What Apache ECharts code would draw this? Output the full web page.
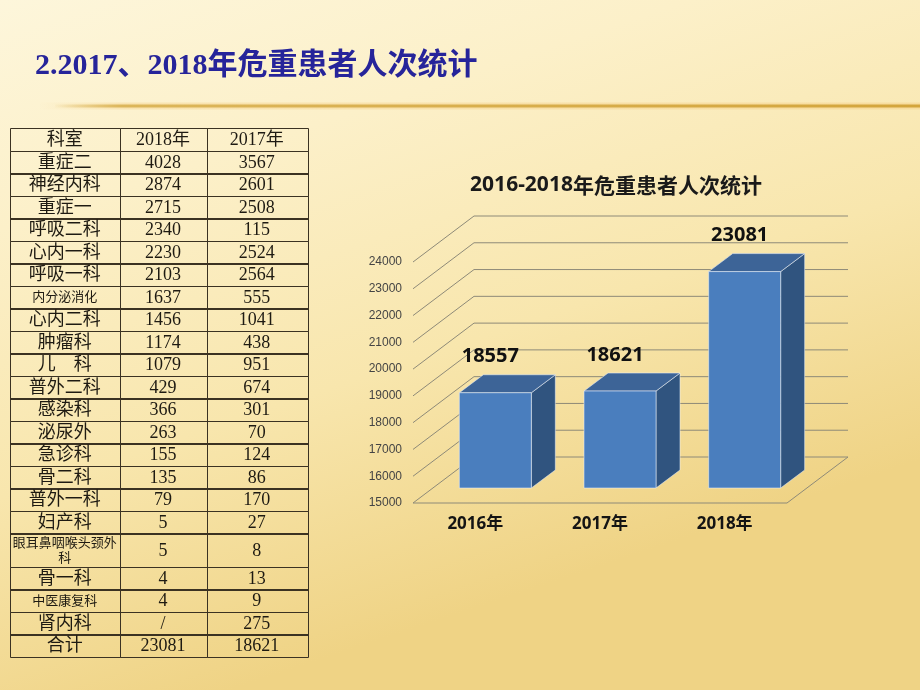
<!DOCTYPE html>
<html>
<head>
<meta charset="utf-8">
<title>危重患者人次统计</title>
<script src="https://cdn.jsdelivr.net/npm/echarts@6/dist/echarts.min.js"></script>
<style>
html,body{margin:0;padding:0;}
#main{width:920px;height:690px;}
</style>
</head>
<body>
<div id="main"></div>
<script>
// 表格数据
var headers = ['科室', '2018年', '2017年'];
var depts = ['重症二', '神经内科', '重症一', '呼吸二科', '心内一科', '呼吸一科', '内分泌消化', '心内二科', '肿瘤科', '儿　科',
  '普外二科', '感染科', '泌尿外', '急诊科', '骨二科', '普外一科', '妇产科', '眼耳鼻咽喉头颈外科', '骨一科', '中医康复科', '肾内科'];
var count2018 = [4028, 2874, 2715, 2340, 2230, 2103, 1637, 1456, 1174, 1079, 429, 366, 263, 155, 135, 79, 5, 5, 4, 4, null];
var count2017 = [3567, 2601, 2508, 115, 2524, 2564, 555, 1041, 438, 951, 674, 301, 70, 124, 86, 170, 27, 8, 13, 9, 275];
var smallNames = ['内分泌消化', '眼耳鼻咽喉头颈外科', '中医康复科'];

// 柱状图数据
var years = ['2016年', '2017年', '2018年'];
var totals = [18557, 18621, 23081];
var yTicks = [15000, 16000, 17000, 18000, 19000, 20000, 21000, 22000, 23000, 24000];

function sum(arr) {
  var s = 0;
  arr.forEach(function (v) { if (v != null) s += v; });
  return s;
}
function fmt(v) { return v == null ? '/' : String(v); }

var rows = [headers];
depts.forEach(function (d, i) { rows.push([d, fmt(count2018[i]), fmt(count2017[i])]); });
rows.push(['合计', String(sum(count2018)), String(sum(count2017))]);

// 表格布局
var colEdges = [0, 109.5, 196.5, 297];
var rowUnits = rows.map(function (r) { return r[0] === '眼耳鼻咽喉头颈外科' ? 1.5 : 1; });
var rowTop = [];
var acc = 0;
rowUnits.forEach(function (u) { rowTop.push(acc); acc += u; });
var cellData = [];
rows.forEach(function (r, ri) { r.forEach(function (t, ci) { cellData.push([ci, ri]); }); });

function renderCell(params, api) {
  var c = api.value(0), r = api.value(1);
  var p0 = api.coord([colEdges[c], rowTop[r]]);
  var p1 = api.coord([colEdges[c + 1], rowTop[r] + rowUnits[r]]);
  var text = rows[r][c];
  var small = c === 0 && smallNames.indexOf(text) >= 0;
  var x0 = Math.round(p0[0]) + 0.5, y0 = Math.round(p0[1]) + 0.5;
  return {
    type: 'group',
    children: [{
      type: 'rect',
      shape: { x: x0, y: y0, width: Math.round(p1[0] - p0[0]), height: Math.round(p1[1] - p0[1]) },
      style: { fill: 'none', stroke: '#3b3222', lineWidth: 1 }
    }, {
      type: 'text',
      style: {
        text: text,
        x: (p0[0] + p1[0]) / 2,
        y: (p0[1] + p1[1]) / 2 + 1,
        align: 'center',
        verticalAlign: 'middle',
        width: p1[0] - p0[0] - 2,
        overflow: 'break',
        lineHeight: small ? 15 : 20,
        fontSize: small ? 13 : 18,
        fontFamily: '"Liberation Serif", "Noto Sans CJK SC", serif',
        fill: '#1e1a12'
      }
    }]
  };
}

// 3D 效果参数
var depth = [61, -46];
var barShift = [20, -15];
var barDepth = [24, -18];
var barW = 72;

function renderGrid(params, api) {
  var v = api.value(1);
  var band = api.size([1, 0])[0];
  var left = api.coord([0, v]);
  var right = api.coord([years.length - 1, v]);
  var xl = left[0] - band / 2, xr = right[0] + band / 2, y = left[1];
  var lines = [{
    type: 'polyline',
    shape: { points: [[xl, y], [xl + depth[0], y + depth[1]], [xr + depth[0], y + depth[1]]] },
    style: { fill: 'none', stroke: '#8e8a78', lineWidth: 1 }
  }];
  if (v === yTicks[0]) {
    lines.push({
      type: 'polyline',
      shape: { points: [[xl, y], [xr, y], [xr + depth[0], y + depth[1]]] },
      style: { fill: 'none', stroke: '#8e8a78', lineWidth: 1 }
    });
  }
  return { type: 'group', children: lines };
}

function renderBar(params, api) {
  var i = api.value(0), v = api.value(1);
  var top = api.coord([i, v]);
  var base = api.coord([i, yTicks[0]]);
  var x0 = top[0] + barShift[0] - barW / 2, x1 = x0 + barW;
  var yt = top[1] + barShift[1], yb = base[1] + barShift[1];
  var dx = barDepth[0], dy = barDepth[1];
  var edge = 'rgba(235,240,250,0.55)';
  return {
    type: 'group',
    children: [{
      type: 'polygon',
      shape: { points: [[x1, yt], [x1 + dx, yt + dy], [x1 + dx, yb + dy], [x1, yb]] },
      style: { fill: '#30547f', stroke: edge, lineWidth: 1 }
    }, {
      type: 'polygon',
      shape: { points: [[x0, yt], [x1, yt], [x1 + dx, yt + dy], [x0 + dx, yt + dy]] },
      style: { fill: '#3d6497', stroke: edge, lineWidth: 1 }
    }, {
      type: 'rect',
      shape: { x: x0, y: yt, width: barW, height: yb - yt },
      style: { fill: '#4a7ebe', stroke: edge, lineWidth: 1 }
    }, {
      type: 'text',
      style: {
        text: String(v),
        x: top[0] + 15,
        y: yt - 36,
        align: 'center',
        verticalAlign: 'middle',
        fontSize: 20,
        fontWeight: 'bold',
        fontFamily: '"Noto Sans", sans-serif',
        fill: '#111'
      }
    }]
  };
}

var myChart = echarts.init(document.getElementById('main'));
var option = {
  backgroundColor: {
    type: 'linear', x: 0, y: 0, x2: 0.25, y2: 1,
    colorStops: [
      { offset: 0, color: '#fdf6db' },
      { offset: 0.3, color: '#fcf0c9' },
      { offset: 0.65, color: '#f8e6ad' },
      { offset: 1, color: '#efd385' }
    ]
  },
  title: [{
    text: '2.2017、2018年危重患者人次统计',
    left: 30,
    top: 46,
    textStyle: {
      color: '#26249a',
      fontSize: 30,
      fontWeight: 'bold',
      fontFamily: '"Liberation Serif", "Noto Sans CJK SC", serif'
    }
  }, {
    text: '{a|2016-2018}{b|年危重患者人次统计}',
    left: 611,
    top: 170,
    textAlign: 'center',
    textStyle: {
      rich: {
        a: { fontSize: 21, fontWeight: 'bold', color: '#1a1a1a', fontFamily: '"Noto Sans", sans-serif' },
        b: { fontSize: 21, color: '#1a1a1a', fontFamily: '"Noto Sans CJK SC", sans-serif' }
      }
    }
  }],
  graphic: [{
    type: 'line',
    shape: { x1: 40, y1: 106, x2: 920, y2: 106 },
    style: {
      lineWidth: 7,
      stroke: {
        type: 'linear', x: 0, y: 0, x2: 1, y2: 0,
        colorStops: [{ offset: 0, color: 'rgba(245,215,150,0)' }, { offset: 0.1, color: 'rgba(245,210,140,0.45)' }, { offset: 1, color: 'rgba(245,205,130,0.45)' }]
      }
    }
  }, {
    type: 'line',
    shape: { x1: 55, y1: 106, x2: 920, y2: 106 },
    style: {
      lineWidth: 3,
      stroke: {
        type: 'linear', x: 0, y: 0, x2: 1, y2: 0,
        colorStops: [{ offset: 0, color: 'rgba(214,172,70,0)' }, { offset: 0.08, color: '#dcb65a' }, { offset: 1, color: '#d3a53c' }]
      }
    }
  }],
  grid: [
    { left: 10, top: 128, width: 297, height: 529 },
    { left: 413, right: 133, top: 262, bottom: 187 }
  ],
  xAxis: [
    { gridIndex: 0, type: 'value', min: 0, max: 297, show: false },
    {
      gridIndex: 1, type: 'category', data: years,
      axisLine: { show: false }, axisTick: { show: false },
      axisLabel: { margin: 13, fontSize: 17, fontWeight: 'bold', color: '#141414', fontFamily: '"Noto Sans", "Noto Sans CJK SC", sans-serif' }
    }
  ],
  yAxis: [
    { gridIndex: 0, type: 'value', min: 0, max: acc, inverse: true, show: false },
    {
      gridIndex: 1, type: 'value', min: 15000, max: 24000, interval: 1000,
      axisLine: { show: false }, axisTick: { show: false }, splitLine: { show: false },
      axisLabel: {
        margin: 11, fontSize: 12, color: '#444', fontFamily: '"Liberation Sans", sans-serif',
        formatter: function (v) { return String(v); }
      }
    }
  ],
  series: [{
    type: 'custom',
    xAxisIndex: 0, yAxisIndex: 0,
    renderItem: renderCell,
    data: cellData,
    silent: true
  }, {
    type: 'custom',
    xAxisIndex: 1, yAxisIndex: 1,
    renderItem: renderGrid,
    data: yTicks.map(function (v) { return [0, v]; }),
    silent: true,
    z: 1
  }, {
    type: 'custom',
    xAxisIndex: 1, yAxisIndex: 1,
    renderItem: renderBar,
    data: totals.map(function (v, i) { return [i, v]; }),
    z: 3
  }]
};
myChart.setOption(option);
</script>
</body>
</html>
